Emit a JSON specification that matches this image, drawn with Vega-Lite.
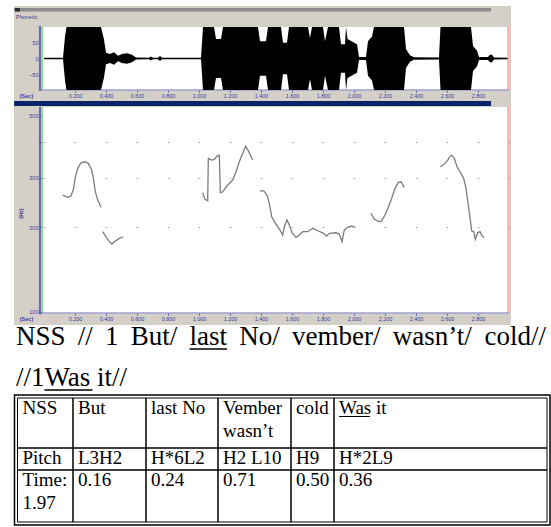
{
"$schema": "https://vega.github.io/schema/vega-lite/v6.json",
"padding": {"left": 13, "top": 6, "right": 0, "bottom": 0},
"background": "white",
"spacing": 0,
"bounds": "flush",
"config": {"view": {"stroke": null}, "axis": {"labelOverlap": false, "labelBound": false}},
"datasets": {
"wave": [
{"t":0,"hi":2,"lo":-2},{"t":0.1226,"hi":2,"lo":-2},{"t":0.1355,"hi":70,"lo":-70},{"t":0.1452,"hi":100,"lo":-100},{"t":0.3677,"hi":100,"lo":-100},{"t":0.3871,"hi":60,"lo":-60},{"t":0.4,"hi":18,"lo":-18},{"t":0.4258,"hi":14,"lo":-14},{"t":0.4516,"hi":20,"lo":-20},{"t":0.4774,"hi":9,"lo":-9},{"t":0.5032,"hi":14,"lo":-14},{"t":0.5355,"hi":17,"lo":-17},{"t":0.5677,"hi":12,"lo":-12},{"t":0.5935,"hi":3,"lo":-3},{"t":0.6774,"hi":2,"lo":-2},{"t":0.6903,"hi":6,"lo":-6},{"t":0.7032,"hi":2,"lo":-2},{"t":0.7355,"hi":2,"lo":-2},{"t":0.7484,"hi":8,"lo":-8},{"t":0.7613,"hi":2,"lo":-2},{"t":1.0129,"hi":2,"lo":-2},{"t":1.0258,"hi":100,"lo":-100},{"t":1.0968,"hi":100,"lo":-100},{"t":1.1097,"hi":62,"lo":-62},{"t":1.1419,"hi":62,"lo":-62},{"t":1.1548,"hi":100,"lo":-100},{"t":1.3806,"hi":100,"lo":-100},{"t":1.3935,"hi":55,"lo":-55},{"t":1.4323,"hi":55,"lo":-55},{"t":1.4452,"hi":100,"lo":-100},{"t":1.529,"hi":100,"lo":-100},{"t":1.5419,"hi":50,"lo":-50},{"t":1.5677,"hi":50,"lo":-50},{"t":1.5806,"hi":100,"lo":-100},{"t":1.7032,"hi":100,"lo":-100},{"t":1.7161,"hi":65,"lo":-65},{"t":1.729,"hi":100,"lo":-100},{"t":1.8,"hi":100,"lo":-100},{"t":1.8129,"hi":55,"lo":-55},{"t":1.8323,"hi":100,"lo":-100},{"t":1.9032,"hi":100,"lo":-100},{"t":1.9161,"hi":45,"lo":-45},{"t":1.9419,"hi":45,"lo":-45},{"t":1.9484,"hi":100,"lo":-100},{"t":1.9581,"hi":62,"lo":-62},{"t":2.0194,"hi":45,"lo":-45},{"t":2.0323,"hi":5,"lo":-5},{"t":2.0774,"hi":5,"lo":-5},{"t":2.0903,"hi":55,"lo":-55},{"t":2.1161,"hi":70,"lo":-70},{"t":2.129,"hi":100,"lo":-100},{"t":2.3226,"hi":100,"lo":-100},{"t":2.3355,"hi":30,"lo":-30},{"t":2.3613,"hi":10,"lo":-10},{"t":2.3871,"hi":4,"lo":-4},{"t":2.5484,"hi":3,"lo":-3},{"t":2.5581,"hi":100,"lo":-100},{"t":2.7548,"hi":100,"lo":-100},{"t":2.7677,"hi":40,"lo":-40},{"t":2.7935,"hi":25,"lo":-25},{"t":2.8065,"hi":5,"lo":-5},{"t":2.8645,"hi":5,"lo":-5},{"t":2.8774,"hi":12,"lo":-12},{"t":2.8903,"hi":12,"lo":-12},{"t":2.9032,"hi":3,"lo":-3},{"t":2.9935,"hi":2,"lo":-2}
],
"pitch": [
{"seg":1,"t":0.1206,"hz":259.9},{"seg":1,"t":0.1529,"hz":255.1},{"seg":1,"t":0.1742,"hz":257.8},{"seg":1,"t":0.1916,"hz":274.6},{"seg":1,"t":0.2,"hz":298.0},{"seg":1,"t":0.2174,"hz":323.3},{"seg":1,"t":0.2387,"hz":338.4},{"seg":1,"t":0.2645,"hz":341.2},{"seg":1,"t":0.2858,"hz":336.8},{"seg":1,"t":0.3077,"hz":318.8},{"seg":1,"t":0.3206,"hz":293.9},{"seg":1,"t":0.331,"hz":267.1},{"seg":1,"t":0.3465,"hz":249.6},{"seg":1,"t":0.3677,"hz":235.1},
{"seg":2,"t":0.3787,"hz":192.7},{"seg":2,"t":0.4,"hz":184.9},{"seg":2,"t":0.4213,"hz":177.6},{"seg":2,"t":0.4387,"hz":174.2},{"seg":2,"t":0.4535,"hz":177.6},{"seg":2,"t":0.4858,"hz":182.5},{"seg":2,"t":0.5116,"hz":184.9},
{"seg":3,"t":1.0239,"hz":264.9},{"seg":3,"t":1.0387,"hz":251.0},{"seg":3,"t":1.0561,"hz":248.1},{"seg":3,"t":1.06,"hz":350.8},{"seg":3,"t":1.0819,"hz":345.9},{"seg":3,"t":1.0987,"hz":347.9},{"seg":3,"t":1.1161,"hz":357.4},{"seg":3,"t":1.131,"hz":360.3},{"seg":3,"t":1.1374,"hz":264.9},{"seg":3,"t":1.1529,"hz":267.1},{"seg":3,"t":1.1852,"hz":282.1},{"seg":3,"t":1.2174,"hz":293.9},{"seg":3,"t":1.2387,"hz":314.5},{"seg":3,"t":1.26,"hz":341.2},{"seg":3,"t":1.2819,"hz":365.3},{"seg":3,"t":1.3,"hz":387.8},{"seg":3,"t":1.3161,"hz":375.3},{"seg":3,"t":1.3465,"hz":345.9},
{"seg":4,"t":1.3935,"hz":269.2},{"seg":4,"t":1.4174,"hz":269.2},{"seg":4,"t":1.4387,"hz":259.9},{"seg":4,"t":1.4535,"hz":242.9},{"seg":4,"t":1.469,"hz":217.7},{"seg":4,"t":1.4968,"hz":205.1},{"seg":4,"t":1.5226,"hz":195.3},{"seg":4,"t":1.54,"hz":187.5},{"seg":4,"t":1.5503,"hz":200.6},{"seg":4,"t":1.5677,"hz":212.0},{"seg":4,"t":1.5826,"hz":203.4},{"seg":4,"t":1.6,"hz":191.0},{"seg":4,"t":1.6258,"hz":184.0},{"seg":4,"t":1.6471,"hz":187.5},{"seg":4,"t":1.669,"hz":192.7},{"seg":4,"t":1.7013,"hz":192.7},{"seg":4,"t":1.7335,"hz":198.1},{"seg":4,"t":1.7658,"hz":194.2},{"seg":4,"t":1.7981,"hz":191.0},{"seg":4,"t":1.8239,"hz":186.0},{"seg":4,"t":1.8406,"hz":190.1},{"seg":4,"t":1.8839,"hz":191.0},{"seg":4,"t":1.9052,"hz":189.0},{"seg":4,"t":1.9226,"hz":177.6},{"seg":4,"t":1.9374,"hz":195.3},{"seg":4,"t":1.9594,"hz":199.7},{"seg":4,"t":1.9852,"hz":201.8},{"seg":4,"t":2.0084,"hz":199.7},
{"seg":5,"t":2.1097,"hz":223.9},{"seg":5,"t":2.131,"hz":213.2},{"seg":5,"t":2.1632,"hz":209.1},{"seg":5,"t":2.1742,"hz":209.1},{"seg":5,"t":2.2,"hz":220.8},{"seg":5,"t":2.2213,"hz":235.1},{"seg":5,"t":2.2432,"hz":253.1},{"seg":5,"t":2.2645,"hz":274.6},{"seg":5,"t":2.2858,"hz":288.4},{"seg":5,"t":2.3032,"hz":289.8},{"seg":5,"t":2.3245,"hz":276.8},
{"seg":6,"t":2.5568,"hz":327.6},{"seg":6,"t":2.5826,"hz":334.9},{"seg":6,"t":2.6045,"hz":345.9},{"seg":6,"t":2.6148,"hz":353.7},{"seg":6,"t":2.6303,"hz":360.3},{"seg":6,"t":2.6471,"hz":350.8},{"seg":6,"t":2.6645,"hz":327.6},{"seg":6,"t":2.6839,"hz":314.5},{"seg":6,"t":2.7077,"hz":298.0},{"seg":6,"t":2.7226,"hz":274.6},{"seg":6,"t":2.7374,"hz":239.6},{"seg":6,"t":2.7503,"hz":212.0},{"seg":6,"t":2.7594,"hz":194.2},{"seg":6,"t":2.7723,"hz":192.7},{"seg":6,"t":2.7826,"hz":181.1},{"seg":6,"t":2.7981,"hz":191.0},{"seg":6,"t":2.8129,"hz":192.7},{"seg":6,"t":2.8258,"hz":186.0},{"seg":6,"t":2.8406,"hz":184.0}
],
"words": [
{"line":1,"i":0,"text":"NSS"},{"line":1,"i":1,"text":"//"},{"line":1,"i":2,"text":"1"},{"line":1,"i":3,"text":"But/"},{"line":1,"i":4,"text":"last"},{"line":1,"i":5,"text":"No/"},{"line":1,"i":6,"text":"vember/"},{"line":1,"i":7,"text":"wasn’t/"},{"line":1,"i":8,"text":"cold//"},{"line":2,"i":0,"text":"//1Was it//"}
],
"underlines": [{"line":1,"from":4,"to":4.5},{"line":2,"from":9,"to":9.5}],
"cells": [
{"row":0,"r2":1,"col":0,"c2":1,"text":"NSS"},{"row":0,"r2":1,"col":1,"c2":2,"text":"But"},{"row":0,"r2":1,"col":2,"c2":3,"text":"last No"},{"row":0,"r2":1,"col":3,"c2":4,"text":"Vember\nwasn’t"},{"row":0,"r2":1,"col":4,"c2":5,"text":"cold"},{"row":0,"r2":1,"col":5,"c2":6,"text":"Was it"},
{"row":1,"r2":2,"col":0,"c2":1,"text":"Pitch"},{"row":1,"r2":2,"col":1,"c2":2,"text":"L3H2"},{"row":1,"r2":2,"col":2,"c2":3,"text":"H*6L2"},{"row":1,"r2":2,"col":3,"c2":4,"text":"H2 L10"},{"row":1,"r2":2,"col":4,"c2":5,"text":"H9"},{"row":1,"r2":2,"col":5,"c2":6,"text":"H*2L9"},
{"row":2,"r2":3,"col":0,"c2":1,"text":"Time:\n1.97"},{"row":2,"r2":3,"col":1,"c2":2,"text":"0.16"},{"row":2,"r2":3,"col":2,"c2":3,"text":"0.24"},{"row":2,"r2":3,"col":3,"c2":4,"text":"0.71"},{"row":2,"r2":3,"col":4,"c2":5,"text":"0.50"},{"row":2,"r2":3,"col":5,"c2":6,"text":"0.36"}
]
},
"vconcat": [
{
"width": 497, "height": 94,
"view": {"fill": "#d4d0c8", "stroke": null},
"layer": [
{"data": {"values": [{}]}, "mark": {"type": "rect", "fill": "white"},
 "encoding": {
  "x": {"datum": -0.02, "type": "quantitative", "scale": {"domain": [-0.19355, 3.0129], "nice": false, "zero": false}},
  "x2": {"datum": 3.0},
  "y": {"datum": -100, "type": "quantitative", "scale": {"domain": [-131.75, 166.67], "nice": false, "zero": false}},
  "y2": {"datum": 100}}},
{"data": {"values": [{}]}, "mark": {"type": "rect", "fill": "#8c8c8c"},
 "encoding": {"x": {"datum": -0.193, "type": "quantitative"}, "x2": {"datum": 2.884}, "y": {"datum": 149.2, "type": "quantitative"}, "y2": {"datum": 160.3}}},
{"data": {"values": [{}]}, "mark": {"type": "rect", "fill": "#303030"},
 "encoding": {"x": {"datum": -0.187, "type": "quantitative"}, "x2": {"datum": -0.155}, "y": {"datum": 149.2, "type": "quantitative"}, "y2": {"datum": 160.3}}},
{"data": {"values": [{}]}, "mark": {"type": "text", "text": "Phonetic", "align": "left", "baseline": "middle", "font": "Liberation Sans", "fontSize": 5.5, "color": "#404080"},
 "encoding": {"x": {"datum": -0.1806, "type": "quantitative"}, "y": {"datum": 131.7, "type": "quantitative"}}},
{"data": {"values": [{}]}, "mark": {"type": "rule", "color": "#6a6aa8", "strokeWidth": 2.5},
 "encoding": {"x": {"datum": -0.025, "type": "quantitative"}, "y": {"datum": -103, "type": "quantitative"}, "y2": {"datum": 103}}},
{"data": {"values": [{}]}, "mark": {"type": "rule", "color": "#90d890", "strokeWidth": 1.5},
 "encoding": {"x": {"datum": -0.01, "type": "quantitative"}, "y": {"datum": -100, "type": "quantitative"}, "y2": {"datum": 100}}},
{"data": {"values": [{}]}, "mark": {"type": "rule", "color": "#a0a0d0", "strokeWidth": 1.5},
 "encoding": {"x": {"datum": -0.02, "type": "quantitative"}, "x2": {"datum": 3.0}, "y": {"datum": -100, "type": "quantitative"}}},
{"data": {"name": "wave"}, "mark": {"type": "area", "color": "black", "interpolate": "linear", "orient": "vertical"},
 "encoding": {
  "x": {"field": "t", "type": "quantitative", "scale": {"domain": [-0.19355, 3.0129], "nice": false, "zero": false},
    "axis": {"orient": "bottom", "offset": -10, "values": [0.2,0.4,0.6,0.8,1.0,1.2,1.4,1.6,1.8,2.0,2.2,2.4,2.6,2.8], "tickCount": 40, "format": ".3f", "labelOverlap": false, "labelFlush": false, "tickSize": 2, "tickColor": "#5050a0", "labelFont": "Liberation Sans", "labelFontSize": 5.5, "labelColor": "#3c3ca0", "labelPadding": 1, "domain": false, "grid": false, "title": "(Sec)", "titleFont": "Liberation Sans", "titleFontSize": 5.5, "titleFontWeight": "bold", "titleColor": "#3c3ca0", "titleX": 12, "titleY": 5, "titleAlign": "center", "titleBaseline": "middle"}},
  "y": {"field": "hi", "type": "quantitative", "scale": {"domain": [-131.75, 166.67], "nice": false, "zero": false},
    "axis": {"orient": "left", "offset": -27, "values": [-50, 0, 50], "tickCount": 10, "labelOverlap": false, "tickSize": 2, "tickColor": "#5050a0", "labelFont": "Liberation Sans", "labelFontSize": 5.5, "labelColor": "#3c3ca0", "labelPadding": 1, "domain": false, "grid": false, "title": null}},
  "y2": {"field": "lo"}}},
{"data": {"values": [{}]}, "mark": {"type": "rule", "color": "#ff8888", "strokeWidth": 1.2},
 "encoding": {"x": {"datum": 2.994, "type": "quantitative"}, "y": {"datum": -100, "type": "quantitative"}, "y2": {"datum": 100}}}
]
},
{
"width": 497, "height": 225,
"view": {"fill": "#d4d0c8", "stroke": null},
"layer": [
{"data": {"values": [{}]}, "mark": {"type": "rect", "fill": "white"},
 "encoding": {
  "x": {"datum": -0.02, "type": "quantitative", "scale": {"domain": [-0.19355, 3.0129], "nice": false, "zero": false}},
  "x2": {"datum": 3.0},
  "y": {"datum": 99.2, "type": "quantitative", "scale": {"type": "log", "domain": [89.9, 565.2], "nice": false}},
  "y2": {"datum": 533.7}}},
{"data": {"values": [{}]}, "mark": {"type": "rect", "fill": "#0a246a"},
 "encoding": {"x": {"datum": -0.193, "type": "quantitative"}, "x2": {"datum": 2.884}, "y": {"datum": 538.7, "type": "quantitative"}, "y2": {"datum": 560.6}}},
{"data": {"values": [{}]}, "mark": {"type": "rule", "color": "#6a6aa8", "strokeWidth": 2.5},
 "encoding": {"x": {"datum": -0.025, "type": "quantitative"}, "y": {"datum": 98, "type": "quantitative"}, "y2": {"datum": 533.7}}},
{"data": {"values": [{}]}, "mark": {"type": "rule", "color": "#90d890", "strokeWidth": 1.5},
 "encoding": {"x": {"datum": -0.01, "type": "quantitative"}, "y": {"datum": 99.2, "type": "quantitative"}, "y2": {"datum": 533.7}}},
{"data": {"values": [{}]}, "mark": {"type": "rule", "color": "#a0a0d0", "strokeWidth": 1.5},
 "encoding": {"x": {"datum": -0.02, "type": "quantitative"}, "x2": {"datum": 3.0}, "y": {"datum": 99.2, "type": "quantitative"}}},
{"data": {"name": "pitch"}, "mark": {"type": "line", "color": "#7c7c7c", "strokeWidth": 1.3},
 "encoding": {
  "x": {"field": "t", "type": "quantitative", "scale": {"domain": [-0.19355, 3.0129], "nice": false, "zero": false},
    "axis": {"orient": "bottom", "offset": -12, "values": [0.2,0.4,0.6,0.8,1.0,1.2,1.4,1.6,1.8,2.0,2.2,2.4,2.6,2.8], "tickCount": 40, "format": ".3f", "labelOverlap": false, "labelFlush": false, "tickSize": 2, "tickColor": "#5050a0", "labelFont": "Liberation Sans", "labelFontSize": 5.5, "labelColor": "#3c3ca0", "labelPadding": 1, "domain": false, "grid": false, "title": "(Sec)", "titleFont": "Liberation Sans", "titleFontSize": 5.5, "titleFontWeight": "bold", "titleColor": "#3c3ca0", "titleX": 12, "titleY": 5, "titleAlign": "center", "titleBaseline": "middle"}},
  "y": {"field": "hz", "type": "quantitative", "scale": {"type": "log", "domain": [89.9, 565.2], "nice": false},
    "axis": {"orient": "left", "offset": -27, "values": [100, 200, 300, 400, 500], "tickCount": 20, "format": "d", "labelOverlap": false, "labelExpr": "datum.value == 400 ? '' : datum.label", "tickSize": 2, "tickColor": "#5050a0", "labelFont": "Liberation Sans", "labelFontSize": 5.5, "labelColor": "#3c3ca0", "labelPadding": 1, "domain": false, "grid": true, "gridColor": "#9a9a9a", "gridWidth": 1.2, "gridDash": [1.5, 29.5], "gridDashOffset": 1.75, "gridOpacity": {"condition": {"test": "datum.value == 500 || datum.value == 100", "value": 0}, "value": 1}, "zindex": 1, "title": "(Hz)", "titleFont": "Liberation Sans", "titleFontSize": 5.5, "titleFontWeight": "bold", "titleColor": "#3c3ca0", "titleX": -21, "titleY": 113, "titleAngle": -90, "titleAlign": "center", "titleBaseline": "middle"}},
  "detail": {"field": "seg"}}},
{"data": {"values": [{}]}, "mark": {"type": "rule", "color": "#ff8888", "strokeWidth": 1.2},
 "encoding": {"x": {"datum": 2.994, "type": "quantitative"}, "y": {"datum": 99.2, "type": "quantitative"}, "y2": {"datum": 533.7}}}
]
},
{
"width": 538, "height": 68,
"layer": [
{"data": {"name": "words"}, "mark": {"type": "text", "align": "left", "baseline": "alphabetic", "font": "Liberation Serif", "fontSize": 27, "color": "black"},
 "encoding": {
  "x": {"field": "i", "type": "quantitative", "scale": {"domain": [0,0.5,1,1.5,2,2.5,3,3.5,4,4.5,5,5.5,6,6.5,7,7.5,8,8.5,9,9.5], "range": [2,51.5,63.75,78.75,91,104.5,116.75,163.25,175.5,213,225.25,265.75,278,366.5,378.75,458.25,470.5,532,30.5,78.5], "nice": false, "zero": false}, "axis": null},
  "y": {"field": "line", "type": "quantitative", "scale": {"domain": [1, 2], "range": [20, 61], "nice": false, "zero": false}, "axis": null},
  "text": {"field": "text"}}},
{"data": {"name": "underlines"}, "mark": {"type": "rule", "color": "black", "strokeWidth": 1.4, "yOffset": 4},
 "encoding": {
  "x": {"field": "from", "type": "quantitative", "scale": {"domain": [0,0.5,1,1.5,2,2.5,3,3.5,4,4.5,5,5.5,6,6.5,7,7.5,8,8.5,9,9.5], "range": [2,51.5,63.75,78.75,91,104.5,116.75,163.25,175.5,213,225.25,265.75,278,366.5,378.75,458.25,470.5,532,30.5,78.5], "nice": false, "zero": false}, "axis": null},
  "x2": {"field": "to"},
  "y": {"field": "line", "type": "quantitative", "scale": {"domain": [1, 2], "range": [20, 61], "nice": false, "zero": false}, "axis": null}}}
]
},
{
"width": 538, "height": 134,
"layer": [
{"data": {"values": [{}]}, "mark": {"type": "rect", "fill": "white", "fillOpacity": 0, "stroke": "black", "strokeWidth": 1.5},
 "encoding": {
  "x": {"datum": -1, "type": "quantitative", "scale": {"domain": [-1,0,1,2,3,4,5,6,7,8,9], "range": [0.5,3.5,59,132,204,277,320,533,536,325,356], "nice": false, "zero": false}, "axis": null},
  "x2": {"datum": 7},
  "y": {"datum": -1, "type": "quantitative", "scale": {"domain": [-1,0,1,2,3,4], "range": [2,5,55,77,129,132], "nice": false, "zero": false}, "axis": null},
  "y2": {"datum": 4}}},
{"data": {"name": "cells"}, "mark": {"type": "rect", "fill": "white", "fillOpacity": 0, "stroke": "black", "strokeWidth": 1},
 "encoding": {
  "x": {"field": "col", "type": "quantitative", "axis": null},
  "x2": {"field": "c2"},
  "y": {"field": "row", "type": "quantitative", "axis": null},
  "y2": {"field": "r2"}}},
{"data": {"name": "cells"}, "mark": {"type": "text", "align": "left", "baseline": "alphabetic", "font": "Liberation Serif", "fontSize": 19, "lineBreak": "\n", "lineHeight": 23, "dx": 5, "dy": 16, "color": "black"},
 "encoding": {
  "x": {"field": "col", "type": "quantitative", "axis": null},
  "y": {"field": "row", "type": "quantitative", "axis": null},
  "text": {"field": "text"}}},
{"data": {"values": [{}]}, "mark": {"type": "rule", "color": "black", "strokeWidth": 1, "yOffset": 18.5},
 "encoding": {
  "x": {"datum": 8, "type": "quantitative", "axis": null},
  "x2": {"datum": 9},
  "y": {"datum": 0, "type": "quantitative", "axis": null}}}
]
}
]
}
